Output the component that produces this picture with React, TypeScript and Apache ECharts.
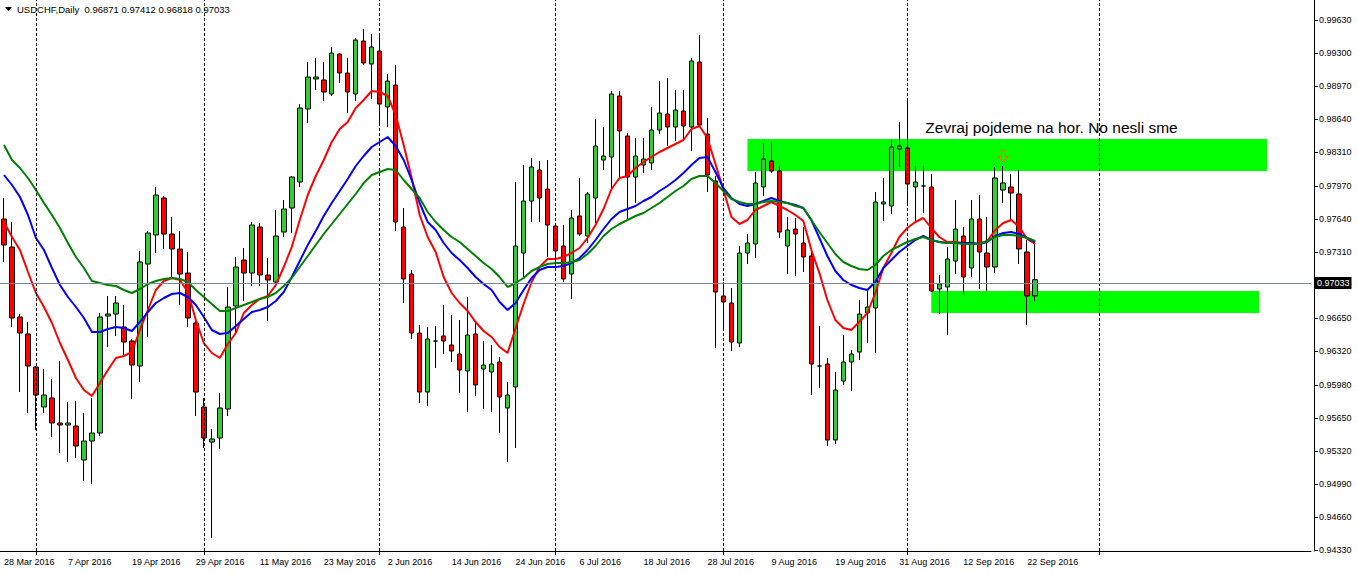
import React, { useEffect, useRef } from "react";
import * as echarts from "echarts";

// ---- data (daily USDCHF bars, 28 Mar 2016 .. 23 Sep 2016) ----
const dateLabels = [
  "28 Mar 2016", "7 Apr 2016", "19 Apr 2016", "29 Apr 2016", "11 May 2016", "23 May 2016",
  "2 Jun 2016", "14 Jun 2016", "24 Jun 2016", "6 Jul 2016", "18 Jul 2016", "28 Jul 2016",
  "9 Aug 2016", "19 Aug 2016", "31 Aug 2016", "12 Sep 2016", "22 Sep 2016",
];
const labelEvery = 8; // one date label every 8 bars
const monthStarts = [4, 25, 47, 69, 90, 113, 137]; // bar index of month separators
const totalSlots = 164; // bars + empty space to the right

const open = [
  0.9764, 0.9736, 0.9666, 0.9649, 0.9616, 0.9576, 0.9585, 0.9560, 0.9558, 0.9557,
  0.9523, 0.9542, 0.9550, 0.9667, 0.9669, 0.9656, 0.9642, 0.9617, 0.9719, 0.9748,
  0.9785, 0.9749, 0.9734, 0.9710, 0.9660, 0.9576, 0.9541, 0.9545, 0.9574, 0.9677,
  0.9723, 0.9710, 0.9756, 0.9708, 0.9701, 0.9751, 0.9775, 0.9801, 0.9874, 0.9904,
  0.9903, 0.9889, 0.9929, 0.9910, 0.9889, 0.9942, 0.9919, 0.9932, 0.9876, 0.9898,
  0.9756, 0.9709, 0.9650, 0.9591, 0.9642, 0.9647, 0.9638, 0.9629, 0.9612, 0.9649,
  0.9614, 0.9611, 0.9621, 0.9575, 0.9596, 0.9730, 0.9782, 0.9813, 0.9794, 0.9757,
  0.9737, 0.9709, 0.9767, 0.9747, 0.9785, 0.9823, 0.9826, 0.9887, 0.9847, 0.9806,
  0.9818, 0.9820, 0.9853, 0.9869, 0.9856, 0.9872, 0.9856, 0.9921, 0.9849, 0.9802,
  0.9687, 0.9680, 0.9640, 0.9730, 0.9739, 0.9796, 0.9822, 0.9812, 0.9737, 0.9754,
  0.9740, 0.9727, 0.9617, 0.9619, 0.9543, 0.9602, 0.9621, 0.9631, 0.9670, 0.9675,
  0.9779, 0.9777, 0.9834, 0.9835, 0.9796, 0.9797, 0.9796, 0.9694, 0.9696, 0.9722,
  0.9747, 0.9715, 0.9764, 0.9730, 0.9716, 0.9793, 0.9796, 0.9789, 0.9731, 0.96871,
];
const high = [
  0.9785, 0.9761, 0.9669, 0.9661, 0.9617, 0.9614, 0.9604, 0.9622, 0.9581, 0.9582,
  0.9570, 0.9585, 0.9670, 0.9687, 0.9687, 0.9678, 0.9644, 0.9732, 0.9752, 0.9796,
  0.9787, 0.9766, 0.9752, 0.9731, 0.9662, 0.9585, 0.9554, 0.9590, 0.9696, 0.9726,
  0.9735, 0.9761, 0.9760, 0.9725, 0.9773, 0.9783, 0.9807, 0.9879, 0.9921, 0.9925,
  0.9921, 0.9936, 0.9930, 0.9925, 0.9945, 0.9954, 0.9949, 0.9950, 0.9909, 0.9918,
  0.9775, 0.9713, 0.9658, 0.9656, 0.9657, 0.9678, 0.9668, 0.9663, 0.9686, 0.9660,
  0.9642, 0.9638, 0.9626, 0.9601, 0.9801, 0.9818, 0.9825, 0.9822, 0.9823, 0.9759,
  0.9758, 0.9773, 0.9805, 0.9791, 0.9864, 0.9856, 0.9892, 0.9892, 0.9850, 0.9845,
  0.9845, 0.9876, 0.9902, 0.9905, 0.9893, 0.9893, 0.9925, 0.9948, 0.9865, 0.9807,
  0.9701, 0.9695, 0.9737, 0.9749, 0.9811, 0.9840, 0.9841, 0.9817, 0.9766, 0.9765,
  0.9756, 0.9731, 0.9657, 0.9625, 0.9611, 0.9648, 0.9633, 0.9683, 0.9692, 0.9791,
  0.9805, 0.9843, 0.9861, 0.9885, 0.9817, 0.9817, 0.9809, 0.9708, 0.9736, 0.9783,
  0.9756, 0.9783, 0.9788, 0.9766, 0.9816, 0.9817, 0.9809, 0.9813, 0.9743, 0.97412,
];
const low = [
  0.9721, 0.9656, 0.9591, 0.9570, 0.9553, 0.9570, 0.9546, 0.9530, 0.9521, 0.9525,
  0.9502, 0.9499, 0.9547, 0.9636, 0.9647, 0.9628, 0.9584, 0.9601, 0.9646, 0.9730,
  0.9734, 0.9705, 0.9678, 0.9656, 0.9567, 0.9535, 0.9445, 0.9534, 0.9567, 0.9650,
  0.9682, 0.9697, 0.9697, 0.9662, 0.9696, 0.9746, 0.9750, 0.9796, 0.9860, 0.9893,
  0.9882, 0.9887, 0.9900, 0.9870, 0.9882, 0.9918, 0.9884, 0.9860, 0.9856, 0.9752,
  0.9680, 0.9644, 0.9580, 0.9577, 0.9615, 0.9629, 0.9621, 0.9590, 0.9571, 0.9587,
  0.9574, 0.9571, 0.9550, 0.9521, 0.9535, 0.9704, 0.9761, 0.9761, 0.9726, 0.9719,
  0.9701, 0.9684, 0.9747, 0.9740, 0.9760, 0.9813, 0.9793, 0.9806, 0.9762, 0.9780,
  0.9810, 0.9813, 0.9849, 0.9837, 0.9842, 0.9843, 0.9832, 0.9856, 0.9791, 0.9635,
  0.9653, 0.9632, 0.9636, 0.9719, 0.9725, 0.9787, 0.9810, 0.9745, 0.9709, 0.9707,
  0.9711, 0.9588, 0.9595, 0.9537, 0.9539, 0.9598, 0.9592, 0.9623, 0.9640, 0.9630,
  0.9762, 0.9769, 0.9816, 0.9780, 0.9761, 0.9770, 0.9691, 0.9669, 0.9648, 0.9709,
  0.9688, 0.9706, 0.9694, 0.9692, 0.9710, 0.9780, 0.9762, 0.9719, 0.9658, 0.96818,
];
const close = [
  0.9738, 0.9665, 0.9650, 0.9617, 0.9588, 0.9588, 0.9560, 0.9558, 0.9560, 0.9537,
  0.9542, 0.9550, 0.9666, 0.9669, 0.9680, 0.9641, 0.9618, 0.9721, 0.9750, 0.9788,
  0.9749, 0.9734, 0.9709, 0.9665, 0.9591, 0.9545, 0.9544, 0.9575, 0.9676, 0.9716,
  0.9710, 0.9758, 0.9708, 0.9703, 0.9747, 0.9774, 0.9806, 0.9875, 0.9906, 0.9906,
  0.9891, 0.9930, 0.9910, 0.9891, 0.9943, 0.9920, 0.9936, 0.9879, 0.9902, 0.9761,
  0.9704, 0.9650, 0.9591, 0.9644, 0.9642, 0.9642, 0.9632, 0.9613, 0.9648, 0.9598,
  0.9618, 0.9619, 0.9586, 0.9588, 0.9737, 0.9782, 0.9816, 0.9785, 0.9758, 0.9732,
  0.9704, 0.9765, 0.9749, 0.9789, 0.9837, 0.9827, 0.9889, 0.9852, 0.9806, 0.9827,
  0.9824, 0.9853, 0.9870, 0.9856, 0.9873, 0.9857, 0.9922, 0.9858, 0.9808, 0.9691,
  0.9681, 0.9641, 0.9730, 0.9740, 0.9800, 0.9824, 0.9812, 0.9751, 0.9753, 0.9749,
  0.9726, 0.9619, 0.9617, 0.9543, 0.9593, 0.9621, 0.9629, 0.9669, 0.9676, 0.9781,
  0.9781, 0.9836, 0.9837, 0.9799, 0.9801, 0.9797, 0.9692, 0.9699, 0.9724, 0.9754,
  0.9706, 0.9764, 0.9731, 0.9716, 0.9805, 0.9800, 0.9790, 0.9734, 0.9687, 0.97033,
];

// moving averages as drawn (red = fast, blue = medium, green = slow)
const maFast = [
  0.9761, 0.9746, 0.9733, 0.9711, 0.9690, 0.9676, 0.9660, 0.9640, 0.9623, 0.9605,
  0.9593, 0.9587, 0.9600, 0.9613, 0.9625, 0.9627, 0.9631, 0.9653, 0.9673, 0.9693,
  0.9702, 0.9705, 0.9703, 0.9691, 0.9663, 0.9640, 0.9630, 0.9625, 0.9639, 0.9650,
  0.9670, 0.9678, 0.9684, 0.9687, 0.9698, 0.9716, 0.9736, 0.9763, 0.9788, 0.9807,
  0.9823, 0.9841, 0.9854, 0.9861, 0.9875, 0.9883, 0.9892, 0.9891, 0.9887, 0.9868,
  0.9838, 0.9805, 0.9768, 0.9746, 0.9731, 0.9706, 0.9690, 0.9680, 0.9672, 0.9661,
  0.9652, 0.9646, 0.9636, 0.9630, 0.9655, 0.9679, 0.9701, 0.9716, 0.9724, 0.9724,
  0.9726, 0.9730, 0.9735, 0.9745, 0.9758, 0.9774, 0.9794, 0.9805, 0.9807, 0.9815,
  0.9821, 0.9826, 0.9831, 0.9835, 0.9839, 0.9843, 0.9854, 0.9857, 0.9845, 0.9819,
  0.9793, 0.9766, 0.9759, 0.9763, 0.9773, 0.9777, 0.9781, 0.9777, 0.9773, 0.9768,
  0.9762, 0.9733, 0.9710, 0.9683, 0.9663, 0.9655, 0.9653, 0.9661, 0.9670, 0.9690,
  0.9715, 0.9730, 0.9746, 0.9755, 0.9761, 0.9765, 0.9755, 0.9746, 0.9741, 0.9741,
  0.9740, 0.9740, 0.9739, 0.9742, 0.9753, 0.9760, 0.9763, 0.9756, 0.9744, 0.9739,
];
const maMid = [
  0.9808, 0.9798, 0.9786, 0.9768, 0.9745, 0.9733, 0.9715, 0.9698, 0.9686, 0.9676,
  0.9665, 0.9651, 0.9651, 0.9654, 0.9656, 0.9655, 0.9652, 0.9661, 0.9671, 0.9680,
  0.9685, 0.9689, 0.9690, 0.9686, 0.9678, 0.9666, 0.9653, 0.9649, 0.9650, 0.9657,
  0.9664, 0.9671, 0.9673, 0.9676, 0.9682, 0.9691, 0.9706, 0.9722, 0.9738, 0.9752,
  0.9767, 0.9780, 0.9792, 0.9804, 0.9817, 0.9827, 0.9836, 0.9841, 0.9846, 0.9837,
  0.9823, 0.9803, 0.9780, 0.9761, 0.9753, 0.9740, 0.9730, 0.9723, 0.9715, 0.9706,
  0.9699, 0.9693, 0.9681, 0.9673, 0.9680, 0.9693, 0.9705, 0.9713, 0.9716, 0.9716,
  0.9717, 0.9720, 0.9725, 0.9733, 0.9743, 0.9754, 0.9764, 0.9771, 0.9774, 0.9777,
  0.9782, 0.9786, 0.9792, 0.9797, 0.9803, 0.9810, 0.9818, 0.9825, 0.9826, 0.9811,
  0.9795, 0.9785, 0.9779, 0.9777, 0.9779, 0.9782, 0.9785, 0.9782, 0.9780, 0.9778,
  0.9775, 0.9763, 0.9745, 0.9727, 0.9712, 0.9703, 0.9698, 0.9695, 0.9693, 0.9701,
  0.9715, 0.9723, 0.9731, 0.9737, 0.9743, 0.9747, 0.9743, 0.9741, 0.9740, 0.9740,
  0.9740, 0.9740, 0.9739, 0.9741, 0.9747, 0.9750, 0.9751, 0.9749, 0.9745, 0.9741,
];
const maSlow = [
  0.9838, 0.9823, 0.9815, 0.9805, 0.9793, 0.9780, 0.9768, 0.9755, 0.9740, 0.9726,
  0.9715, 0.9702, 0.9700, 0.9698, 0.9697, 0.9693, 0.9690, 0.9694, 0.9699, 0.9702,
  0.9704, 0.9705, 0.9704, 0.9701, 0.9693, 0.9686, 0.9679, 0.9672, 0.9672, 0.9675,
  0.9678, 0.9681, 0.9684, 0.9686, 0.9690, 0.9697, 0.9705, 0.9716, 0.9727, 0.9738,
  0.9749, 0.9759, 0.9769, 0.9779, 0.9789, 0.9800, 0.9808, 0.9811, 0.9814, 0.9813,
  0.9803, 0.9794, 0.9785, 0.9771, 0.9761, 0.9753, 0.9746, 0.9741, 0.9734, 0.9727,
  0.9720, 0.9714, 0.9706, 0.9696, 0.9700, 0.9705, 0.9712, 0.9716, 0.9719, 0.9720,
  0.9720, 0.9721, 0.9723, 0.9729, 0.9737, 0.9747, 0.9754, 0.9759, 0.9763, 0.9767,
  0.9770, 0.9775, 0.9780, 0.9786, 0.9792, 0.9797, 0.9804, 0.9807, 0.9807, 0.9800,
  0.9792, 0.9784, 0.9781, 0.9779, 0.9779, 0.9781, 0.9782, 0.9781, 0.9780, 0.9777,
  0.9775, 0.9763, 0.9751, 0.9740, 0.9729, 0.9721, 0.9717, 0.9714, 0.9713, 0.9718,
  0.9727, 0.9733, 0.9737, 0.9741, 0.9744, 0.9746, 0.9743, 0.9741, 0.9740, 0.9740,
  0.9739, 0.9739, 0.9739, 0.9742, 0.9746, 0.9748, 0.9748, 0.9747, 0.9745, 0.9742,
];

const priceTicks = [
  0.9433, 0.9466, 0.9499, 0.9532, 0.9565, 0.9598, 0.9632, 0.9665,
  0.9731, 0.9764, 0.9797, 0.9831, 0.9864, 0.9897, 0.9930, 0.9963,
];
const lastPrice = 0.97033;
const titleText = "USDCHF,Daily  0.96871 0.97412 0.96818 0.97033";
const noteText = "Zevraj pojdeme na hor. No nesli sme";
const noteAt = { bar: 115, price: 0.9856 };
const arrowAt = { bar: 125, price: 0.9827 };
const zoneFrom = [93, 116];
const zoneTo = [158, 157];
const zoneTop = [0.9844, 0.9692];
const zoneBottom = [0.9812, 0.9670];

const FONT = "'Liberation Sans', Arial, sans-serif";

export default function App() {
  const ref = useRef<HTMLDivElement>(null);

  useEffect(() => {
    const el = ref.current;
    if (!el) return;
    const chart = echarts.init(el, null, { renderer: "svg" });

    const categories = Array.from({ length: totalSlots }, (_, i) => String(i));
    const candles = open.map((o, i) => [o, close[i], low[i], high[i]]);

    const option: any = {
      animation: false,
      backgroundColor: "#ffffff",
      grid: { left: -1, right: 47, top: 0, bottom: 22, containLabel: false },
      xAxis: {
        type: "category",
        data: categories,
        boundaryGap: true,
        axisLine: { show: true, lineStyle: { color: "#000", width: 1 } },
        axisTick: {
          show: true,
          alignWithLabel: true,
          length: 4,
          lineStyle: { color: "#000" },
          interval: (i: number) => monthStarts.includes(i),
        },
        axisLabel: {
          show: true,
          interval: (i: number) => i % labelEvery === 0 && i / labelEvery < dateLabels.length,
          formatter: (_v: string, i: number) => dateLabels[Math.round(i / labelEvery)] ?? "",
          align: "left",
          margin: 6,
          color: "#000",
          fontSize: 9,
          fontFamily: FONT,
        },
        splitLine: { show: false },
      },
      yAxis: {
        type: "value",
        position: "right",
        offset: 3,
        min: 0.9432,
        max: 0.9983,
        scale: true,
        axisLine: { show: true, lineStyle: { color: "#000", width: 1 } },
        axisTick: { show: true, length: 4, lineStyle: { color: "#000" }, customValues: priceTicks },
        axisLabel: {
          show: true,
          customValues: priceTicks,
          formatter: (v: number) => v.toFixed(5),
          margin: 5,
          color: "#000",
          fontSize: 9,
          fontFamily: FONT,
        },
        splitLine: { show: false },
      },
      series: [
        {
          type: "candlestick",
          name: "USDCHF",
          data: candles,
          barWidth: 5,
          z: 2,
          itemStyle: {
            color: "#32CD32",
            color0: "#FF0000",
            borderColor: "#000",
            borderColor0: "#000",
            borderColorDoji: "#000",
            borderWidth: 1,
          },
          markArea: {
            silent: true,
            itemStyle: { color: "#00FF00", opacity: 1 },
            data: zoneFrom.map((f, k) => [
              { coord: [String(f), zoneTop[k]] },
              { coord: [String(zoneTo[k]), zoneBottom[k]] },
            ]),
          },
          markLine: {
            silent: true,
            symbol: ["none", "none"],
            animation: false,
            data: [
              ...monthStarts.map((m) => ({
                xAxis: String(m),
                lineStyle: { color: "#000", type: [3, 2], width: 1 },
                label: { show: false },
              })),
              {
                yAxis: lastPrice,
                lineStyle: { color: "#778899", type: "solid", width: 1 },
                label: {
                  show: true,
                  position: "end",
                  distance: 4,
                  formatter: lastPrice.toFixed(5),
                  backgroundColor: "#000",
                  color: "#fff",
                  padding: [2, 2, 1, 2],
                  fontSize: 9,
                  fontFamily: FONT,
                },
              },
            ],
          },
          markPoint: {
            silent: true,
            animation: false,
            data: [
              {
                coord: [String(noteAt.bar), noteAt.price],
                symbol: "circle",
                symbolSize: 0,
                itemStyle: { color: "transparent" },
                label: {
                  show: true,
                  position: "right",
                  distance: 2,
                  formatter: noteText,
                  color: "#000",
                  fontSize: 15.5,
                  fontFamily: FONT,
                },
              },
              {
                coord: [String(arrowAt.bar), arrowAt.price],
                symbol: "path://M3,0 L7,0 L7,6 L10,6 L5,11 L0,6 L3,6 Z",
                symbolSize: [10, 11],
                symbolKeepAspect: false,
                itemStyle: { color: "rgba(255,255,255,0)", borderColor: "#FF6A00", borderWidth: 1 },
                label: { show: false },
              },
            ],
          },
        },
        {
          type: "line",
          name: "MA fast",
          data: maFast,
          showSymbol: false,
          symbol: "none",
          z: 4,
          lineStyle: { color: "#FF0000", width: 2 },
        },
        {
          type: "line",
          name: "MA mid",
          data: maMid,
          showSymbol: false,
          symbol: "none",
          z: 4,
          lineStyle: { color: "#0000FF", width: 2 },
        },
        {
          type: "line",
          name: "MA slow",
          data: maSlow,
          showSymbol: false,
          symbol: "none",
          z: 4,
          lineStyle: { color: "#008000", width: 2 },
        },
      ],
      graphic: [
        {
          type: "polygon",
          shape: { points: [[5, 7], [12, 7], [8.5, 11]] },
          style: { fill: "#000" },
          silent: true,
        },
        {
          type: "text",
          left: 17,
          top: 4,
          style: { text: titleText, fill: "#000", fontSize: 9.5, fontFamily: FONT },
          silent: true,
        },
      ],
    };

    chart.setOption(option);
    return () => {
      chart.dispose();
    };
  }, []);

  return (
    <div
      ref={ref}
      style={{ position: "fixed", left: 0, top: 0, width: 1358, height: 573, background: "#fff" }}
    />
  );
}
